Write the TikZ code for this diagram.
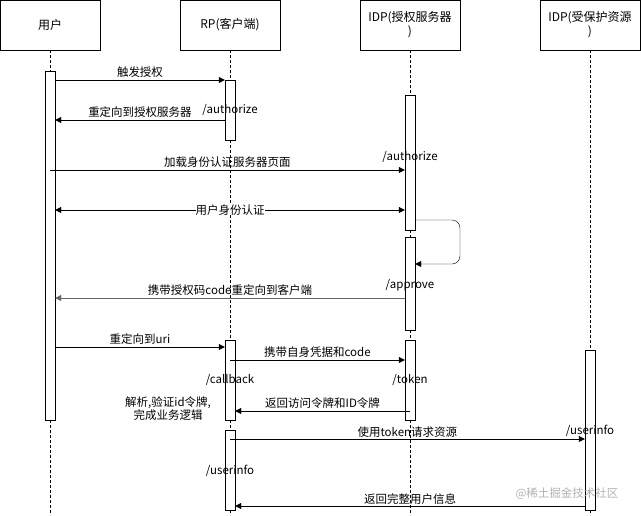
\documentclass[tikz,border=0pt]{standalone}
\usepackage{fontspec}
\setmainfont{Noto Sans CJK SC}
\usetikzlibrary{positioning,arrows.meta,calc}
\begin{document}
\begin{tikzpicture}[x=1pt,y=-1pt,
    % define styles
    head/.style={draw, minimum width=100pt, minimum height=50pt, inner sep=1pt,
        align=center, text width=96pt, font=\fontsize{12pt}{14pt}\selectfont},
    life/.style={densely dashed, thin},
    act/.style={draw, fill=white, minimum width=10pt, inner sep=0pt},
    msg/.style={-{Triangle[length=6pt,width=6pt]}, thin},
    lbl/.style={font=\fontsize{11.5pt}{13pt}\selectfont, inner sep=1pt}
]
\useasboundingbox (0,0) rectangle (641,515);
% headers
\node[head] (user) at (50,25) {用户};
\node[head] (rp) at (230,25) {RP(客户端)};
\node[head] (idp) at (410,25) {IDP(授权服务器\\)};
\node[head] (res) at (590,25) {IDP(受保护资源\\)};
% lifelines
\foreach \h in {user,rp,idp,res}
    \draw[life] (\h.south) -- ++(0,465);
% activations
\node[act, minimum height=349pt] (ua) at (50,245.5) {};
\node[act, minimum height=60pt] (rp1) at (230,110) {};
\node[act, minimum height=135pt] (idp1) at (410,162.5) {};
\node[act, minimum height=93pt] (idp2) at (410,283.5) {};
\node[act, minimum height=80pt] (rp2) at (230,380) {};
\node[act, minimum height=80pt] (idp3) at (410,380) {};
\node[act, minimum height=80pt] (rp3) at (230,470) {};
\node[act, minimum height=160pt] (ra) at (590,430) {};
% message heights
\coordinate (m1) at (0,80);
\coordinate (m2) at (0,120);
\coordinate (m3) at (0,170);
\coordinate (m4) at (0,210);
\coordinate (m5) at (0,298);
\coordinate (m6) at (0,347);
\coordinate (m7) at (0,360);
\coordinate (m8) at (0,411);
\coordinate (m9) at (0,439);
\coordinate (m10) at (0,506);
% messages
\draw[msg] (ua.east |- m1) -- node[lbl, above=1pt] {触发授权} (rp1.west |- m1);
\draw[msg] (rp1.west |- m2) -- node[lbl, above=1pt] {重定向到授权服务器} (ua.east |- m2);
\draw[msg] (ua.center |- m3) -- node[lbl, above=1pt] {加载身份认证服务器页面} (idp1.west |- m3);
\draw[msg, {Triangle[length=6pt,width=6pt]}-{Triangle[length=6pt,width=6pt]}] (ua.east |- m4) -- node[lbl, fill=white, inner sep=0pt] {用户身份认证} (idp1.west |- m4);
\draw[msg, rounded corners=8pt] (idp1.east |- 0,220) -- (460,220) -- (460,264) -- (idp2.east |- 0,264);
\draw[msg, gray!80!black] (idp2.west |- m5) -- node[lbl, black, above=1pt] {携带授权码code重定向到客户端} (ua.east |- m5);
\draw[msg] (ua.east |- m6) -- node[lbl, above=1pt] {重定向到uri} (rp2.west |- m6);
\draw[msg] (rp2.center |- m7) -- node[lbl, above=1pt] {携带自身凭据和code} (idp3.west |- m7);
\draw[msg] (idp3.center |- m8) -- node[lbl, above=1pt] {返回访问令牌和ID令牌} (rp2.east |- m8);
\draw[msg] (rp3.center |- m9) -- node[lbl, above=0pt] {使用token请求资源} (ra.west |- m9);
\draw[msg] (ra.west |- m10) -- node[lbl, above=0pt] {返回完整用户信息} (rp3.east |- m10);
% endpoint labels
\node[lbl] (ep1) at (230,110) {/authorize};
\node[lbl] (ep2) at (410,157) {/authorize};
\node[lbl] (ep3) at (410,285) {/approve};
\node[lbl] (ep4) at (230,380) {/callback};
\node[lbl] (ep5) at (410,380) {/token};
\node[lbl] (ep6) at (590,431) {/userinfo};
\node[lbl] (ep7) at (230,471) {/userinfo};
\node[lbl, align=center] (note) at (168,409) {解析,验证id令牌,\\完成业务逻辑};
\node[lbl, gray!60] (wm) at (567,494) {@稀土掘金技术社区};
\end{tikzpicture}
\end{document}
